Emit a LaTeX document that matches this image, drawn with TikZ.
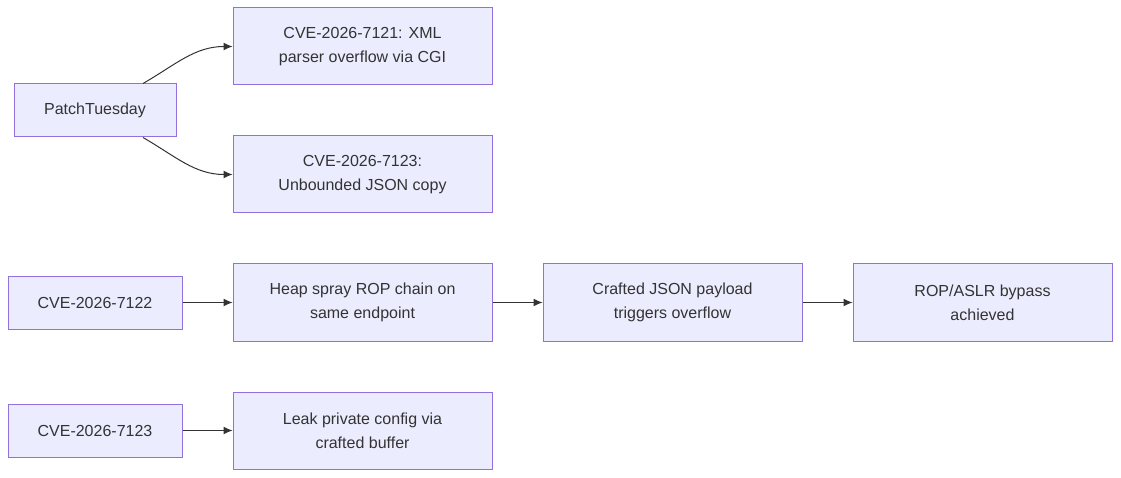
\documentclass[tikz,border=0pt]{standalone}
\usepackage{fontspec}
\setmainfont{Liberation Sans}
\usetikzlibrary{arrows.meta}
\definecolor{boxfill}{HTML}{ECECFF}
\definecolor{boxline}{HTML}{9370DB}
\definecolor{ink}{HTML}{333333}
\begin{document}
\begin{tikzpicture}[x=1pt,y=-1pt,
  box/.style={draw=boxline, fill=boxfill, line width=1pt, text=ink,
    font=\fontsize{16}{24}\selectfont, align=center, inner sep=0pt},
  small/.style={box, minimum width=168pt, minimum height=53pt},
  big/.style={box, minimum width=259pt, minimum height=77pt},
  link/.style={draw=ink, line width=1pt, -{Latex[length=9pt,width=8pt]}}]

  \useasboundingbox (0,0) rectangle (1121,478);

  % Patch group
  \node[small, minimum width=162pt] (pt) at (95,110.5) {PatchTuesday};
  \node[big] (xml) at (362.5,46.5) {CVE-2026-7121: XML\\parser overflow via CGI};
  \node[big] (json) at (362.5,174.5) {CVE-2026-7123:\\Unbounded JSON copy};

  % Chain for 7122
  \node[small, minimum width=174pt] (c22) at (95,302.5) {CVE-2026-7122};
  \node[big] (heap) at (362.5,302.5) {Heap spray ROP chain on\\same endpoint};
  \node[big] (craft) at (672.5,302.5) {Crafted JSON payload\\triggers overflow};
  \node[big] (rop) at (982.5,302.5) {ROP/ASLR bypass\\achieved};

  % Chain for 7123
  \node[small, minimum width=174pt] (c23) at (95,430.5) {CVE-2026-7123};
  \node[big] (leak) at (362.5,430.5) {Leak private config via\\crafted buffer};

  % Edges
  \draw[link] ([xshift=48pt]pt.north) to[out=30,in=180] (xml.west);
  \draw[link] ([xshift=48pt]pt.south) to[out=-30,in=180] (json.west);
  \draw[link] (c22) -- (heap);
  \draw[link] (heap) -- (craft);
  \draw[link] (craft) -- (rop);
  \draw[link] (c23) -- (leak);
\end{tikzpicture}
\end{document}
